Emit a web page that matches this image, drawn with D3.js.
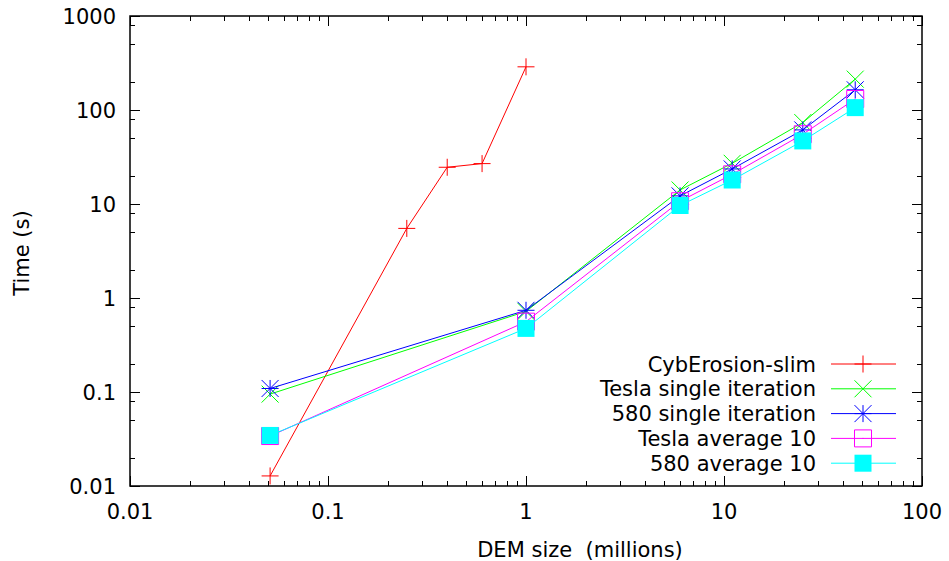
<!DOCTYPE html>
<html>
<head>
<meta charset="utf-8">
<script src="https://cdn.jsdelivr.net/npm/d3@7"></script>
<style>
body { margin: 0; background: #fff; }
text { font-family: "DejaVu Sans", sans-serif; }
</style>
</head>
<body>
<div id="zone_graphique"></div>
<script>
var largeur = 949;
var hauteur = 561;

// données
var xTicks = [0.01, 0.1, 1, 10, 100];
var yTicks = [0.01, 0.1, 1, 10, 100, 1000];

var cybX = [0.051, 0.25, 0.40, 0.60, 1.0];
var cybY = [0.0128, 5.5, 24.6, 26.9, 288];

var gpuX = [0.051, 1.0, 6, 11, 25, 46];
var teslaSingle = [0.095, 0.72, 14.1, 27.1, 73.5, 213];
var s580Single = [0.109, 0.74, 12.2, 23.6, 61.4, 164];
var teslaAvg = [0.034, 0.56, 10.7, 20.7, 55.2, 131];
var s580Avg = [0.0345, 0.475, 9.64, 18.0, 46.9, 106];

var series = [
    {name: "CybErosion-slim", xs: cybX, ys: cybY, color: "#ff0000", sym: "plus"},
    {name: "Tesla single iteration", xs: gpuX, ys: teslaSingle, color: "#00ff00", sym: "cross"},
    {name: "580 single iteration", xs: gpuX, ys: s580Single, color: "#0000ff", sym: "star"},
    {name: "Tesla average 10", xs: gpuX, ys: teslaAvg, color: "#ff00ff", sym: "box"},
    {name: "580 average 10", xs: gpuX, ys: s580Avg, color: "#00ffff", sym: "fbox"}
];

var fs = "21px";

// marges du graph
var marge = {haut: 16, droite: 27, bas: 75, gauche: 130},
    width = largeur - marge.gauche - marge.droite,
    height = hauteur - marge.haut - marge.bas;

var svg = d3.select("#zone_graphique")
    .append("svg")
        .attr("width", largeur)
        .attr("height", hauteur)
    .append("g")
        .attr("transform", "translate(" + marge.gauche + "," + marge.haut + ")");

var x = d3.scaleLog().domain([0.01, 100]).range([0, width]);
var y = d3.scaleLog().domain([0.01, 1000]).range([height, 0]);

// graduations secondaires
var xMinor = [], yMinor = [];
xTicks.slice(0, -1).forEach(function (d) {
    for (var k = 2; k <= 9; k++) xMinor.push(d * k);
});
yTicks.slice(0, -1).forEach(function (d) {
    [2, 5, 8].forEach(function (k) { yMinor.push(d * k); });
});

var ticks = svg.append("g").attr("stroke", "#000").attr("stroke-width", 1);
function tickLines(vals, len, horiz) {
    vals.forEach(function (v) {
        if (horiz) {
            var px = Math.round(x(v)) + 0.5;
            ticks.append("line").attr("x1", px).attr("x2", px).attr("y1", height).attr("y2", height - len);
            ticks.append("line").attr("x1", px).attr("x2", px).attr("y1", 0).attr("y2", len);
        } else {
            var py = Math.round(y(v)) + 0.5;
            ticks.append("line").attr("y1", py).attr("y2", py).attr("x1", 0).attr("x2", len);
            ticks.append("line").attr("y1", py).attr("y2", py).attr("x1", width).attr("x2", width - len);
        }
    });
}
tickLines(xTicks, 10, true);
tickLines(xMinor, 5, true);
tickLines(yTicks, 10, false);
tickLines(yMinor, 5, false);

// étiquettes des axes
svg.append("g").selectAll("text")
    .data(xTicks).enter().append("text")
        .attr("x", function (d) { return x(d); })
        .attr("y", height + 33)
        .attr("text-anchor", "middle")
        .attr("font-size", fs)
        .text(function (d) { return String(d); });

svg.append("g").selectAll("text")
    .data(yTicks).enter().append("text")
        .attr("x", -14)
        .attr("y", function (d) { return y(d); })
        .attr("dy", "0.36em")
        .attr("text-anchor", "end")
        .attr("font-size", fs)
        .text(function (d) { return String(d); });

svg.append("text")
    .attr("x", 450)
    .attr("y", height + 71)
    .attr("text-anchor", "middle")
    .attr("font-size", fs)
    .style("white-space", "pre")
    .text("DEM size  (millions)");

svg.append("text")
    .attr("transform", "translate(" + (-101) + "," + (237) + ") rotate(-90)")
    .attr("text-anchor", "middle")
    .attr("font-size", fs)
    .text("Time (s)");

// symboles
var h = 8.5;
function drawSym(g, cx, cy, sym, color) {
    var p = d3.path();
    if (sym == "plus" || sym == "star") {
        p.moveTo(cx - h, cy); p.lineTo(cx + h, cy);
        p.moveTo(cx, cy - h); p.lineTo(cx, cy + h);
    }
    if (sym == "cross" || sym == "star") {
        p.moveTo(cx - h, cy - h); p.lineTo(cx + h, cy + h);
        p.moveTo(cx - h, cy + h); p.lineTo(cx + h, cy - h);
    }
    if (sym == "box") {
        p.rect(cx - h, cy - h, 2 * h, 2 * h);
        p.moveTo(cx - 0.5, cy); p.lineTo(cx + 0.5, cy);
    }
    if (sym == "fbox") {
        g.append("rect").attr("x", cx - h).attr("y", cy - h)
            .attr("width", 2 * h).attr("height", 2 * h).attr("fill", color);
        return;
    }
    g.append("path").attr("d", p.toString()).attr("fill", "none")
        .attr("stroke", color).attr("stroke-width", 1);
}

var line = d3.line()
    .x(function (d) { return x(d[0]); })
    .y(function (d) { return y(d[1]); });

// légende
var legX = 816 - marge.gauche, legY0 = 364 - marge.haut, legDy = 24.8;

series.forEach(function (s, i) {
    var g = svg.append("g");
    var pts = s.xs.map(function (v, j) { return [v, s.ys[j]]; });
    g.append("path").attr("d", line(pts)).attr("fill", "none")
        .attr("stroke", s.color).attr("stroke-width", 1);
    pts.forEach(function (d) { drawSym(g, x(d[0]), y(d[1]), s.sym, s.color); });

    var ly = legY0 + i * legDy;
    g.append("text").attr("x", legX).attr("y", ly).attr("dy", "0.36em")
        .attr("text-anchor", "end").attr("font-size", fs).text(s.name);
    g.append("line").attr("x1", legX + 15).attr("x2", legX + 80)
        .attr("y1", ly).attr("y2", ly).attr("stroke", s.color).attr("stroke-width", 1);
    drawSym(g, legX + 47, ly, s.sym, s.color);
});

// cadre
svg.append("rect").attr("x", 0).attr("y", 0).attr("width", width).attr("height", height)
    .attr("fill", "none").attr("stroke", "#000").attr("stroke-width", 1.5);
</script>
</body>
</html>
